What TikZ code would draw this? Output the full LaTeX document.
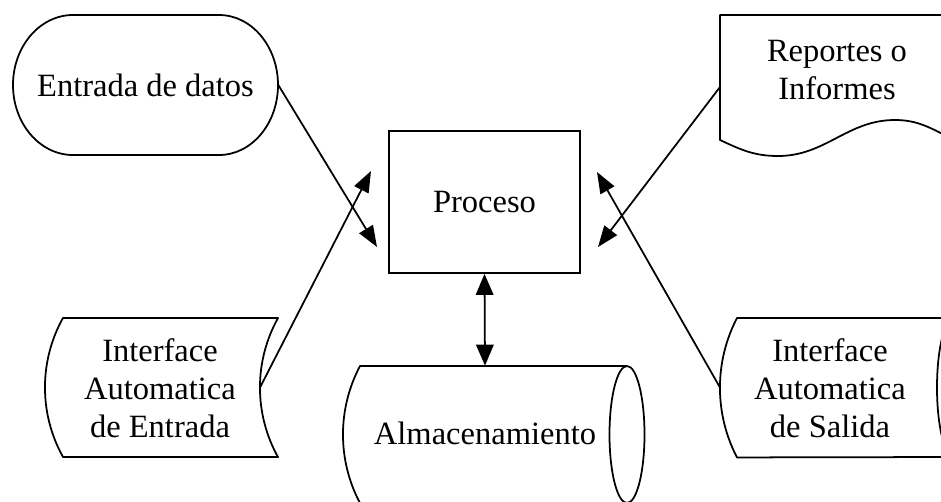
\documentclass[tikz,border=0pt]{standalone}
\usepackage{fontspec}
\setmainfont{Liberation Serif}
\usetikzlibrary{calc,arrows.meta,positioning}

\begin{document}
\begin{tikzpicture}[x=0.02cm,y=0.02cm,
	symtext/.style={inner sep=0pt,align=center,font=\fontsize{18.5}{21.5}\selectfont},
	outline/.style={draw,line width=1pt,line join=round},
	process/.style={rectangle,draw,line width=1pt,inner sep=0pt,minimum width=3.82cm,minimum height=2.84cm},
	paths/.style={->, line width=1pt, >={Triangle[length=12pt,width=9pt]}},
	dpaths/.style={<->, line width=1pt, >={Triangle[length=12pt,width=10pt]}}
	]
\useasboundingbox (0,0) rectangle (941,-501);
\clip (0,0) rectangle (941,-501);

% symbols
\node [process] (proceso) at (484.5,-202) {\fontsize{18.5}{21.5}\selectfont Proceso};
\node [symtext,minimum width=5.3cm,minimum height=2.8cm] (entrada) at (145.5,-85) {Entrada de datos};
\node [symtext] (reportes) at (837,-70) {Reportes o\\Informes};
\node [symtext] (intEnt) at (160,-388) {Interface\\Automatica\\de Entrada};
\node [symtext] (intSal) at (830,-388) {Interface\\Automatica\\de Salida};
\node [symtext,minimum height=2.68cm] (almacen) at (485,-433) {Almacenamiento};

% outlines
\draw [outline] (73,-15) -- (219,-15) arc[start angle=90,end angle=-90,x radius=59,y radius=70]
	-- (73,-155) arc[start angle=270,end angle=90,x radius=60,y radius=70] -- cycle;
\draw [outline] (960,-15) -- (720,-15) -- (720,-140) to[out=-25,in=180] (778,-156)
	to[out=0,in=180] (895,-120) to[out=0,in=155] (955,-140);
\draw [outline] (63,-318) -- (278,-318) arc[start angle=150.9,end angle=209.1,radius=143]
	-- (63,-457) arc[start angle=209.1,end angle=150.9,radius=143] -- cycle;
\draw [outline] (627,-366) -- (360,-366) arc[start angle=152.1,end angle=207.9,radius=146.5] -- (627,-503);
\draw [outline] (627,-434.5) ellipse[x radius=17.5,y radius=68.5];
\draw [outline] (954,-318) -- (737,-318) arc[start angle=152.5,end angle=207.5,radius=151] -- (954,-457);
\draw [outline] (954,-387.5) ellipse[x radius=17,y radius=69.5];

% connection points
\coordinate (reportesL) at (720,-87);
\coordinate (intEntR) at (260,-387.5);
\coordinate (intSalL) at (720,-387.5);
\coordinate (tipA) at (377,-247);
\coordinate (tipB) at (371,-171);
\coordinate (tipC) at (598,-247);
\coordinate (tipD) at (597,-172);

% flows
\draw [paths] (entrada.east) -- (tipA);
\draw [paths] (intEntR) -- (tipB);
\draw [paths] (reportesL) -- (tipC);
\draw [paths] (intSalL) -- (tipD);
\draw [dpaths] (proceso.south) -- (almacen.north);
\end{tikzpicture}
\end{document}
